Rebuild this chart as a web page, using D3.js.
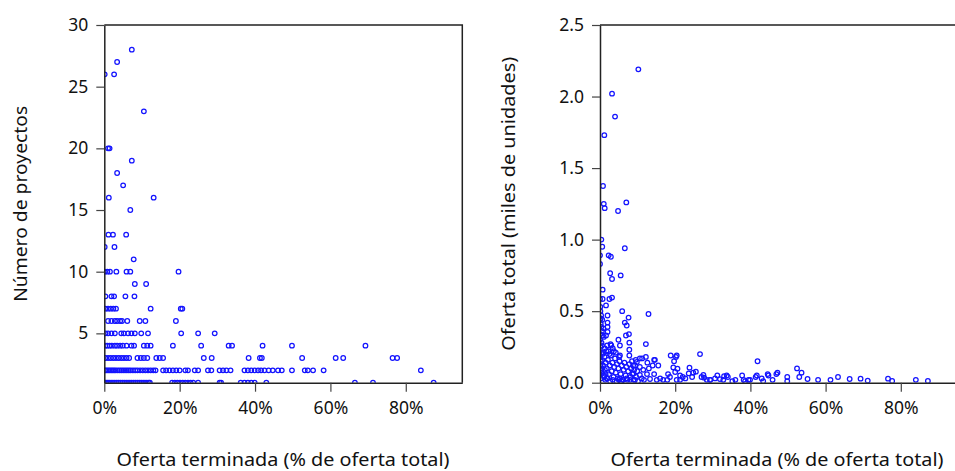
<!DOCTYPE html>
<html>
<head>
<meta charset="utf-8">
<script src="https://cdn.jsdelivr.net/npm/d3@7"></script>
<style>
  body { margin: 0; background: #fff; }
  text { font-family: "Noto Sans", "Open Sans", sans-serif; fill: #111; }
</style>
</head>
<body>
<svg id="chart" width="955" height="471"></svg>
<script>
// ---------- DATA ----------
// Left panel: number of projects (integer levels) vs % of supply finished
const countLevels = [28, 27, 26, 23, 20, 19, 18, 17, 16, 15, 13, 12, 11, 10, 9, 8, 7, 6, 5, 4, 3, 2, 1];
const pctAtCount = [
  [7.3],
  [3.4],
  [0.1, 2.6],
  [10.5],
  [1.0, 1.4],
  [7.3],
  [3.4],
  [5.0],
  [1.2, 13.1],
  [6.9],
  [1.1, 2.3, 5.8],
  [0.1, 2.7],
  [7.8],
  [0.1, 0.8, 1.5, 3.2, 5.9, 6.9, 19.7],
  [8.1, 11.1],
  [0.3, 1.9, 2.6, 5.6, 8.0],
  [0.3, 1.0, 1.7, 2.4, 3.1, 12.3, 20.3, 20.7],
  [1.0, 1.9, 2.8, 3.4, 4.2, 4.7, 6.1, 9.4, 10.9, 19.0],
  [0.3, 1.0, 1.9, 2.8, 4.5, 5.2, 6.3, 7.2, 8.1, 9.8, 11.6, 20.4, 24.9, 29.3],
  [0.3, 0.8, 1.4, 2.0, 2.8, 3.4, 4.2, 4.9, 5.9, 7.2, 7.9, 10.5, 11.4, 12.3, 18.2, 25.7, 33.0, 33.9, 42.0, 49.8, 69.3],
  [0.3, 1.0, 1.7, 2.4, 3.1, 3.8, 4.5, 5.2, 5.9, 6.6, 8.8, 9.7, 10.5, 11.4, 13.8, 14.7, 15.6, 26.4, 28.5, 38.3, 41.3, 41.8, 52.5, 61.4, 63.4, 76.5, 77.7],
  [0.2, 0.6, 1.0, 1.4, 1.8, 2.2, 2.6, 3.0, 3.5, 4.0, 4.5, 5.0, 5.5, 6.0, 6.5, 7.0, 7.6, 8.2, 8.8, 9.5, 10.2, 10.9, 11.6, 12.3, 13.0, 13.6,
   15.6, 16.4, 17.3, 18.2, 19.1, 20.0, 21.5, 22.2, 24.0, 24.9, 27.5, 28.4, 30.6, 31.5, 32.4, 33.5,
   37.2, 38.1, 39.0, 39.9, 40.8, 41.6, 42.5, 43.6, 44.7, 46.1, 47.1, 49.8, 53.2, 54.0, 55.4, 58.2, 84.0],
  [0.1, 0.5, 0.9, 1.3, 1.8, 2.3, 2.8, 3.3, 3.8, 4.3, 4.8, 5.3, 5.8, 6.3, 6.8, 7.3, 7.8, 8.3, 8.8, 9.3, 9.8, 10.3, 10.8, 11.3, 11.8, 12.1,
   18.0, 18.7, 19.4, 20.1, 20.8, 21.5, 22.2, 22.9, 23.6, 24.9, 30.6, 31.0, 36.2, 37.2, 38.1, 39.0, 39.9, 43.0, 66.5, 71.3, 87.4]
];

// Right panel: total supply (thousand units) vs % of supply finished
const supplyPct = [
  10.2, 3.2, 4.0, 1.15, 0.8, 1.0, 1.25, 4.8, 7.0, 0.35,
  0.6, 6.6, 0.0, 2.3, 2.9, 0.0, 2.7, 3.2, 5.5, 0.7,
  0.0, 0.7, 2.5, 3.2, 1.6, 5.9, 12.9, 7.6, 2.0, 2.0,
  2.0, 2.0, 6.6, 7.1, 6.9, 7.7, 7.8, 7.8, 7.8, 5.3,
  4.9, 5.1, 5.3, 0.1, 0.3, 0.2, 0.5, 1.0, 1.6, 1.9,
  1.3, 2.8, 3.4, 2.2, 12.2, 18.8, 20.4, 19.7, 20.2, 26.6,
  41.9, 14.4, 15.5, 23.8, 25.5, 24.8, 24.5, 23.6, 52.4, 53.6,
  53.0, 47.2, 46.9, 44.6, 44.8, 41.7, 41.4, 37.8, 36.0, 38.2,
  39.9, 49.8, 49.8, 55.2, 58.0, 61.3, 63.3, 66.4, 69.3, 71.2,
  76.6, 77.7, 84.0, 87.2, 33.7, 34.0, 30.6, 31.2, 31.9, 32.8,
  33.0, 27.5, 27.7, 28.4, 29.3, 21.3, 22.0, 22.7, 21.3, 20.4,
  19.5, 20.6, 20.0, 18.1, 18.6, 17.9, 16.8, 16.0, 15.1, 14.6,
  14.0, 14.4, 13.3, 12.2, 10.6, 11.2, 9.8, 9.3, 10.6, 11.5,
  9.9, 8.9, 10.6, 11.1, 9.3, 8.0, 7.1, 6.2, 5.3, 0.1,
  0.2, 0.0, 0.3, 0.1, 0.0, 0.4, 0.1, 0.3, 0.0, 0.2,
  0.1, 0.3, 0.0, 0.2, 0.6, 0.7, 0.5, 0.9, 1.2, 1.5,
  1.8, 2.1, 2.4, 2.6, 2.9, 3.1, 3.3, 3.6, 3.8, 4.0,
  4.2, 4.5, 4.7, 4.9, 5.2, 5.5, 5.8, 6.0, 6.3, 6.5,
  6.8, 7.0, 7.3, 7.5, 7.8, 8.1, 8.3, 8.6, 8.9, 9.1,
  1.0, 1.4, 2.0, 2.7, 3.4, 4.4, 5.0, 5.7, 1.7, 2.5,
  3.0, 3.7, 4.2, 8.5, 9.6, 10.1, 11.7, 12.5, 13.0, 12.6,
  9.5, 8.8, 27.0, 29.3, 38.6, 39.5, 43.0, 43.4, 45.9, 35.2,
  0.4, 0.8, 1.1, 0.6, 1.3, 0.9, 1.5, 0.5, 1.8, 0.7
];
const supplyTotal = [
  2.19, 2.02, 1.86, 1.73, 1.375, 1.25, 1.22, 1.20, 1.26, 1.00,
  0.95, 0.94, 0.89, 0.89, 0.88, 0.83, 0.765, 0.725, 0.75, 0.65,
  0.585, 0.585, 0.585, 0.595, 0.54, 0.50, 0.48, 0.455, 0.47, 0.42,
  0.39, 0.355, 0.42, 0.40, 0.33, 0.34, 0.28, 0.23, 0.19, 0.26,
  0.30, 0.18, 0.19, 0.53, 0.47, 0.41, 0.36, 0.32, 0.33, 0.26,
  0.24, 0.27, 0.24, 0.22, 0.27, 0.19, 0.19, 0.15, 0.18, 0.20,
  0.15, 0.16, 0.12, 0.105, 0.077, 0.07, 0.04, 0.065, 0.10, 0.07,
  0.04, 0.07, 0.06, 0.06, 0.05, 0.05, 0.04, 0.05, 0.02, 0.02,
  0.02, 0.04, 0.01, 0.026, 0.02, 0.02, 0.04, 0.026, 0.028, 0.014,
  0.028, 0.012, 0.02, 0.012, 0.05, 0.04, 0.03, 0.05, 0.025, 0.02,
  0.045, 0.054, 0.035, 0.02, 0.02, 0.05, 0.04, 0.03, 0.02, 0.02,
  0.107, 0.098, 0.075, 0.06, 0.04, 0.02, 0.02, 0.03, 0.02, 0.16,
  0.12, 0.06, 0.026, 0.18, 0.17, 0.17, 0.145, 0.12, 0.11, 0.09,
  0.08, 0.065, 0.054, 0.03, 0.02, 0.02, 0.03, 0.02, 0.03, 0.50,
  0.45, 0.44, 0.39, 0.34, 0.30, 0.28, 0.25, 0.21, 0.18, 0.15,
  0.12, 0.09, 0.06, 0.03, 0.44, 0.20, 0.10, 0.38, 0.18, 0.14,
  0.10, 0.16, 0.06, 0.12, 0.19, 0.08, 0.14, 0.04, 0.11, 0.17,
  0.07, 0.13, 0.03, 0.10, 0.15, 0.06, 0.12, 0.02, 0.09, 0.14,
  0.05, 0.11, 0.02, 0.08, 0.13, 0.04, 0.10, 0.06, 0.02, 0.09,
  0.05, 0.02, 0.03, 0.01, 0.02, 0.01, 0.02, 0.01, 0.22, 0.20,
  0.26, 0.22, 0.21, 0.15, 0.04, 0.01, 0.02, 0.06, 0.10, 0.14,
  0.16, 0.12, 0.04, 0.02, 0.01, 0.02, 0.03, 0.01, 0.02, 0.01,
  0.08, 0.12, 0.04, 0.16, 0.09, 0.21, 0.06, 0.26, 0.03, 0.33
];

const xTicks = [0, 20, 40, 60, 80];
const leftYTicks = [5, 10, 15, 20, 25, 30];
const rightYTicks = [0, 0.5, 1.0, 1.5, 2.0, 2.5];
const xLabel = "Oferta terminada (% de oferta total)";
const leftYLabel = "Número de proyectos";
const rightYLabel = "Oferta total (miles de unidades)";

// ---------- DRAW ----------
const svg = d3.select("#chart");
const TICK_FS = 17.5;
const LABEL_FS = 18.5;
const dotColor = "#1414ff";

const leftPoints = [];
countLevels.forEach((c, i) => pctAtCount[i].forEach(p => leftPoints.push({x: p, y: c})));
const rightPoints = supplyPct.map((p, i) => ({x: p, y: supplyTotal[i]}));

function panel(cfg) {
  const {x0, x1, y0, y1, xDomain, yDomain, yTicks, yFmt, points, yLabel, yLabelX, yLabelLen, id} = cfg;
  const x = d3.scaleLinear().domain(xDomain).range([x0, x1]);
  const y = d3.scaleLinear().domain(yDomain).range([y1, y0]);
  const g = svg.append("g");

  g.append("clipPath").attr("id", id).append("rect")
    .attr("x", x0).attr("y", y0).attr("width", x1 - x0).attr("height", y1 - y0);

  g.append("g").attr("clip-path", `url(#${id})`)
    .selectAll("circle").data(points).join("circle")
    .attr("cx", d => x(d.x)).attr("cy", d => y(d.y)).attr("r", 2.3)
    .attr("fill", "none").attr("stroke", dotColor).attr("stroke-width", 1.25);

  // frame (top and right)
  g.append("path").attr("d", `M${x0},${y0}H${x1}V${y1}`)
    .attr("fill", "none").attr("stroke", "#222").attr("stroke-width", 1.5);

  const xAxis = g.append("g").attr("transform", `translate(0,${y1})`)
    .call(d3.axisBottom(x).tickValues(xTicks).tickFormat(d => d + "%").tickSize(9).tickSizeOuter(0).tickPadding(10));
  const yAxis = g.append("g").attr("transform", `translate(${x0},0)`)
    .call(d3.axisLeft(y).tickValues(yTicks).tickFormat(yFmt).tickSize(8).tickSizeOuter(0).tickPadding(8));
  [xAxis, yAxis].forEach(a => {
    a.select(".domain").attr("stroke", "#222").attr("stroke-width", 1.5);
    a.selectAll(".tick line").attr("stroke", "#444").attr("stroke-width", 1.2);
    a.selectAll("text").attr("font-size", TICK_FS).attr("font-family", "Noto Sans, Open Sans, sans-serif").attr("fill", "#111");
  });

  g.append("text").attr("transform", `translate(${yLabelX},${(y0 + y1) / 2}) rotate(-90)`)
    .attr("text-anchor", "middle").attr("dominant-baseline", "middle")
    .attr("font-size", LABEL_FS)
    .attr("textLength", yLabelLen).attr("lengthAdjust", "spacingAndGlyphs")
    .text(yLabel);
  g.append("text").attr("x", cfg.xLabelX).attr("y", 461)
    .attr("text-anchor", "middle").attr("dominant-baseline", "middle")
    .attr("font-size", LABEL_FS)
    .attr("textLength", 333).attr("lengthAdjust", "spacingAndGlyphs")
    .text(xLabel);
}

panel({
  id: "clipL", x0: 104.3, x1: 462.3, y0: 25, y1: 382.7,
  xDomain: [0, 95], yDomain: [1, 30], yTicks: leftYTicks, yFmt: d3.format("d"),
  points: leftPoints, yLabel: leftYLabel, yLabelX: 22, yLabelLen: 196, xLabelX: 283
});
panel({
  id: "clipR", x0: 600, x1: 957.2, y0: 25, y1: 382.7,
  xDomain: [0, 95], yDomain: [0, 2.5], yTicks: rightYTicks, yFmt: d3.format(".1f"),
  points: rightPoints, yLabel: rightYLabel, yLabelX: 510, yLabelLen: 294, xLabelX: 777
});
</script>
</body>
</html>
